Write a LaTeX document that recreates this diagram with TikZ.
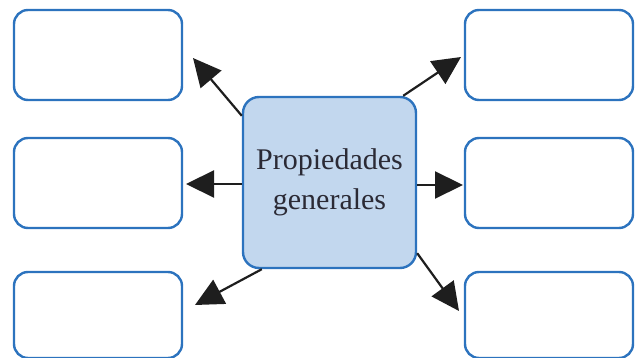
\documentclass[tikz,border=0pt]{standalone}
\usepackage{fontspec}
\setmainfont{Liberation Serif}
\usetikzlibrary{arrows.meta}
\definecolor{boxblue}{HTML}{2C73BE}
\definecolor{fillblue}{HTML}{C2D7EE}
\definecolor{arrowgray}{HTML}{1E1E1E}
\definecolor{txt}{HTML}{2B2A35}
\tikzset{
  emptybox/.style={draw=boxblue,line width=2.4pt,rounded corners=14pt,fill=white,minimum width=168pt,minimum height=90pt,inner sep=0pt},
  centerbox/.style={draw=boxblue,line width=2.4pt,rounded corners=16pt,fill=fillblue,minimum width=173pt,minimum height=171pt,inner sep=0pt,align=center,text=txt,font=\fontsize{30}{40}\selectfont},
  conn/.style={draw=arrowgray,line width=2.2pt,-{Triangle[length=28pt,width=27pt]}}
}
\begin{document}
\begin{tikzpicture}[x=1pt,y=-1pt]
\useasboundingbox (0,0) rectangle (635,358);
\node[emptybox] (tl) at (98,55) {};
\node[emptybox] (ml) at (98,183) {};
\node[emptybox,minimum height=86pt] (bl) at (98,315) {};
\node[emptybox] (tr) at (549,55) {};
\node[emptybox] (mr) at (549,183) {};
\node[emptybox,minimum height=86pt] (br) at (549,315) {};
\node[centerbox] (c) at (329.5,182.5) {Propiedades\\generales};
\coordinate (ttl) at (193,58);
\coordinate (tml) at (186,184);
\coordinate (tbl) at (195,305);
\coordinate (ttr) at (461,57);
\coordinate (tmr) at (463,185);
\coordinate (tbr) at (459,311);
\draw[conn] ([yshift=-20pt]c.north west) -- (ttl);
\draw[conn] (c.west |- tml) -- (tml);
\draw[conn] ([xshift=20pt]c.south west) -- (tbl);
\draw[conn] ([xshift=-14pt]c.north east) -- (ttr);
\draw[conn] (c.east |- tmr) -- (tmr);
\draw[conn] ([yshift=16pt]c.south east) -- (tbr);
\end{tikzpicture}
\end{document}
